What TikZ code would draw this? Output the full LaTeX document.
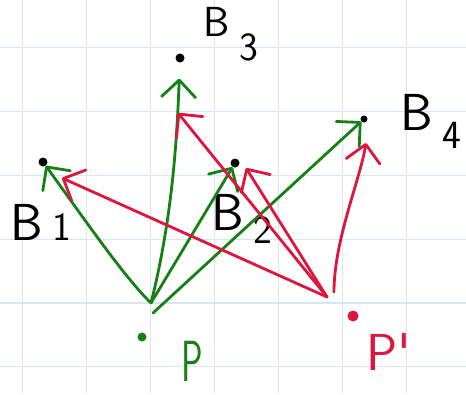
\documentclass[tikz,border=0pt]{standalone}
\usepackage{xcolor}
\usepackage{tikz}
\usetikzlibrary{arrows.meta}
\definecolor{penGreen}{RGB}{22,128,22}
\definecolor{penRed}{RGB}{220,22,60}
\definecolor{gridBlue}{RGB}{210,230,244}
\newcommand{\bsub}[2]{B\hspace{10pt}\raisebox{-#2pt}{\fontsize{40}{40}\selectfont #1}}

\begin{document}
\begin{tikzpicture}[x=1pt,y=-1pt,>={Straight Barb[length=17pt,width=34pt,round]},
  grn/.style={draw=penGreen,line width=2.8pt,line cap=round,->},
  rd/.style={draw=penRed,line width=2.8pt,line cap=round,->},
  pt/.style={circle,fill,inner sep=0pt,minimum size=9pt},
  lbl/.style={font=\sffamily\fontsize{52}{52}\selectfont,inner sep=0pt}]
\fill[white] (0,0) rectangle (466,394);
\useasboundingbox (0,0) rectangle (466,394);
\foreach \x in {0,...,6}
  \draw[gridBlue,line width=1.2pt] (22.7+63.9*\x,0)--(22.7+63.9*\x,394);
\foreach \y in {0,...,5}
  \draw[gridBlue,line width=1.2pt] (0,47.7+63.8*\y)--(466,47.7+63.8*\y);

\node[pt] (b1) at (43,162) {};
\node[pt] (b3) at (180,58) {};
\node[pt] (b2) at (235,163) {};
\node[pt,minimum size=7pt] (b4) at (364,119) {};
\node[pt,penGreen] (p) at (142,337) {};
\node[pt,penRed,minimum size=11pt] (q) at (353,316) {};

\node[lbl,anchor=base west] (l1) at (10,240) {\bsub{1}{0}};
\node[lbl,anchor=base west,font=\sffamily\fontsize{42}{42}\selectfont] (l3) at (203,36) {\bsub{3}{24}};
\node[lbl,anchor=base west] (l2) at (211,230) {\bsub{2}{13}};
\node[lbl,anchor=base west] (l4) at (400,130) {\bsub{4}{18}};
\node[lbl,text=penGreen,font=\sffamily\fontsize{58}{58}\selectfont,anchor=base] (lp) at (192,381) {\scalebox{0.62}[1]{P}};
\node[lbl,text=penRed,anchor=base west] (lq) at (366,370) {P\textquotesingle};

\coordinate (pfoot) at (151,303);
\coordinate (qfoot) at (327,297);
\coordinate (r1) at (62,178);
\coordinate (r3) at (178,113);
\coordinate (r2) at (246,168);
\coordinate (r4) at (366,143);

\draw[grn] (pfoot) .. controls (125,278) and (85,220) .. (b1);
\draw[grn,shorten >=16pt] (pfoot) .. controls (172,220) and (177,140) .. (b3);
\draw[grn] (pfoot) -- (b2);
\draw[grn] ([shift={(2,10)}]pfoot) -- (b4);

\draw[rd] (qfoot) -- (r1);
\draw[rd] (qfoot) -- (r3);
\draw[rd] (qfoot) -- (r2);
\draw[rd] ([shift={(7,-5)}]qfoot) .. controls (334,240) and (360,180) .. (r4);
\end{tikzpicture}
\end{document}
